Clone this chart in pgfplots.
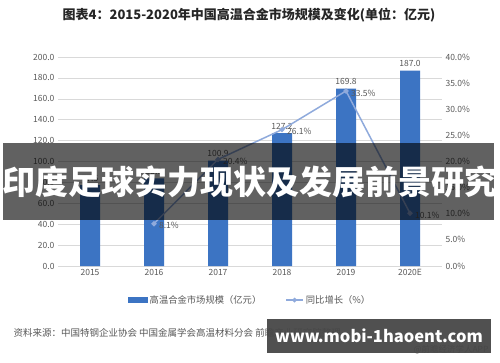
\documentclass[border=0pt]{standalone}
\usepackage{fontspec}
\setmainfont{Noto Sans CJK SC}
\usepackage{pgfplots}
\pgfplotsset{compat=1.18}
\definecolor{barblue}{HTML}{3C74C3}
\definecolor{lineblue}{HTML}{8FAADC}
\definecolor{txt}{HTML}{595959}
\definecolor{gridc}{HTML}{D9D9D9}
\begin{document}
\begin{tikzpicture}
\path[use as bounding box] (0,0) rectangle (500pt,362pt);
\fill[white] (0,0) rectangle (500pt,362pt);
\node[font=\fontsize{13}{15}\selectfont\bfseries, text=black!85] at (249pt,347pt) {图表4：2015-2020年中国高温合金市场规模及变化(单位：亿元)};
\begin{axis}[at={(58pt,96pt)}, anchor=south west, scale only axis, width=384pt, height=209pt,
  xmin=-0.5, xmax=5.5, ymin=0, ymax=200,
  ytick={0,20,...,200}, xtick={0,...,5}, xticklabels={2015,2016,2017,2018,2019,2020E},
  axis x line*=bottom, axis y line*=left,
  y axis line style={draw=none}, x axis line style={draw=gridc},
  major tick length=0pt, ymajorgrids, grid style={draw=gridc},
  tick label style={font=\fontsize{8.5}{10}\selectfont, text=txt},
  /pgf/number format/assume math mode=true,
  yticklabel style={/pgf/number format/fixed, /pgf/number format/fixed zerofill, /pgf/number format/precision=1},
  legend style={at={(0.5,-0.163)}, anchor=center, legend columns=2, draw=none, font=\fontsize{9.3}{11}\selectfont, text=txt,
    /tikz/every even column/.append style={column sep=22pt}},
  ]
\addplot[ybar, bar width=20pt, fill=barblue, draw=none,
  nodes near coords, every node near coord/.append style={font=\fontsize{8.5}{10}\selectfont, text=txt, /pgf/number format/fixed, /pgf/number format/fixed zerofill, /pgf/number format/precision=1, /pgf/number format/assume math mode=true},
  legend image code/.code={\fill[barblue] (0pt,-3pt) rectangle (20pt,3pt);}]
 coordinates {(0,77.5) (1,83.8) (2,100.9) (3,127.2) (4,169.8) (5,187.0)};
\addlegendentry{高温合金市场规模（亿元）}
\addlegendimage{lineblue, line width=1.5pt, mark=*, mark size=1.5pt}
\addlegendentry{同比增长（\%）}
\end{axis}
\begin{axis}[at={(58pt,96pt)}, anchor=south west, scale only axis, width=384pt, height=209pt,
  xmin=-0.5, xmax=5.5, ymin=0, ymax=40,
  ytick={0,5,...,40}, axis x line=none, axis y line*=right, y axis line style={draw=none},
  major tick length=0pt,
  tick label style={font=\fontsize{8.5}{10}\selectfont, text=txt},
  /pgf/number format/assume math mode=true,
  yticklabel={\pgfmathprintnumber[fixed, fixed zerofill, precision=1]{\tick}\%},
  ]
\addplot[lineblue, line width=1.5pt, mark=*, mark size=1.8pt,
  nodes near coords={\pgfmathprintnumber[fixed, fixed zerofill, precision=1]{\pgfplotspointmeta}\%},
  every node near coord/.append style={anchor=west, xshift=1pt, yshift=-2pt, font=\fontsize{8.5}{10}\selectfont, text=txt}]
 coordinates {(1,8.1) (2,20.4) (3,26.1) (4,33.5) (5,10.1)};
\end{axis}
\node[anchor=west, font=\fontsize{9.5}{11}\selectfont, text=txt] at (10pt,29pt) {资料来源：中国特钢企业协会 中国金属学会高温材料分会 前瞻产业研究院整理};
\node[anchor=east, font=\fontsize{8.5}{10}\selectfont, text=txt] at (492pt,12pt) {@前瞻经济学人APP};
\fill[black, opacity=0.62] (3pt,142pt) rectangle (494pt,219pt);
\node[white, inner sep=0pt, font=\fontsize{33}{35}\selectfont\bfseries] at (250pt,180pt) {印度足球实力现状及发展前景研究};
\fill[black!72, opacity=0.95] (267pt,9pt) rectangle (491pt,43pt);
\node[white, font=\fontsize{16.5}{19}\selectfont\bfseries] at (379pt,26pt) {www.mobi-1haoent.com};
\end{tikzpicture}
\end{document}
